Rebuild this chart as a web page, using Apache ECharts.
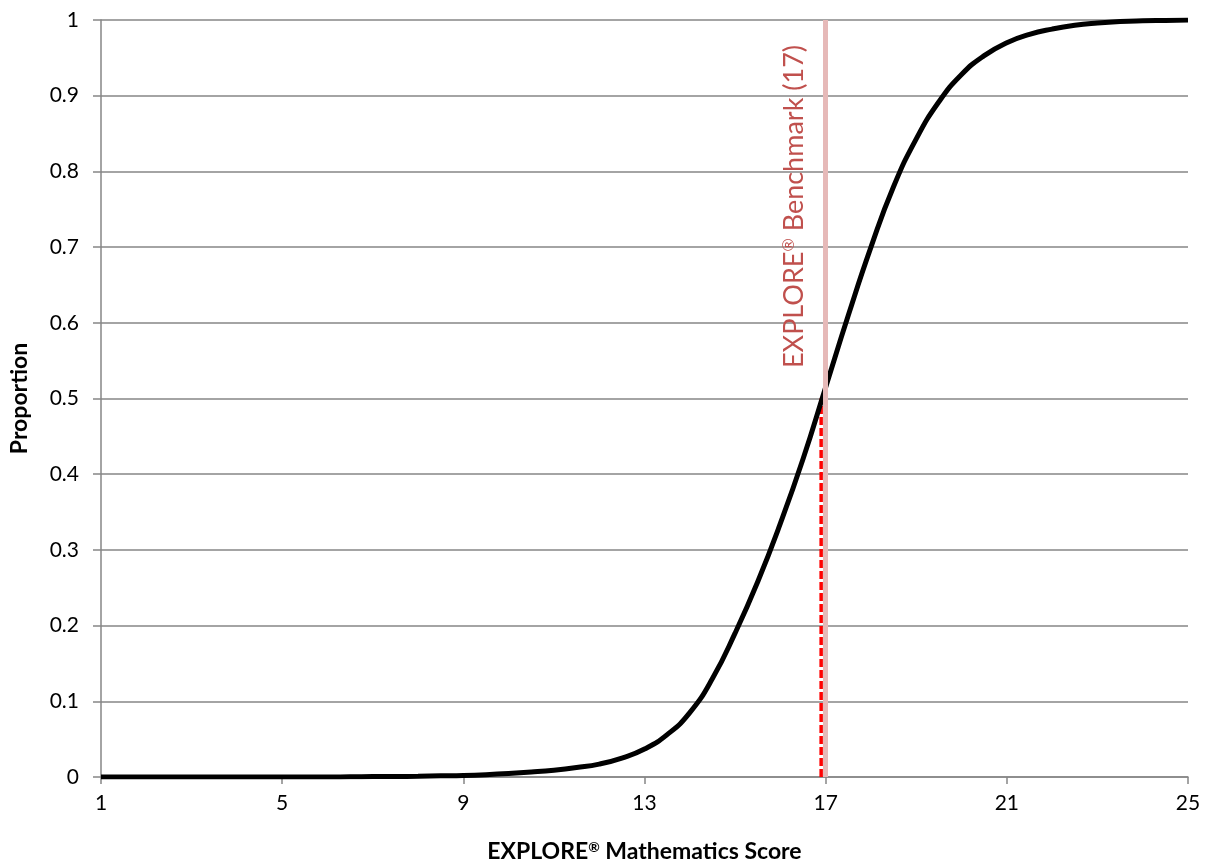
<!DOCTYPE html>
<html>
<head>
<meta charset="utf-8">
<script src="https://cdn.jsdelivr.net/npm/echarts@6/dist/echarts.min.js"></script>
<style>
html,body{margin:0;padding:0;background:#fff;}
#chart{width:1210px;height:865px;}
</style>
</head>
<body>
<div id="chart"></div>
<script>
const scores = [1,1.5,2,2.5,3,3.5,4,4.5,5,5.5,6,6.5,7,7.5,8,8.5,9,9.5,10,10.5,11,11.5,12,12.5,13,13.5,14,14.5,15,15.5,16,16.5,17,17.5,18,18.5,19,19.5,20,20.5,21,21.5,22,22.5,23,23.5,24,24.5,25];
const proportions = [0,0,0,0,0,0,0,0,0,0,0,0.0003,0.0005,0.0007,0.001,0.0015,0.002,0.003,0.0045,0.0065,0.009,0.0125,0.017,0.025,0.037,0.056,0.085,0.13,0.19,0.258,0.335,0.42,0.515,0.61,0.70,0.78,0.843,0.892,0.928,0.953,0.97,0.981,0.988,0.993,0.996,0.998,0.999,0.9995,1.0];
const xTickLabels = [1,5,9,13,17,21,25];
const benchmarkScore = 17;
const benchmarkLabel = 'EXPLORE{sup|®} Benchmark (17)';
const crossingScore = 16.9;
const crossingProportion = 0.5;
const xAxisTitle = 'EXPLORE{sup|®} Mathematics Score';
const yAxisTitle = 'Proportion';

const FONT = 'Lato';
const curveData = scores.map((s, i) => [s, proportions[i]]);
const crossingData = [[crossingScore, 0], [crossingScore, crossingProportion]];

const chart = echarts.init(document.getElementById('chart'), null, {renderer: 'canvas'});
chart.setOption({
  animation: false,
  backgroundColor: '#ffffff',
  grid: {left: 101, right: 22, top: 20, bottom: 88, containLabel: false, outerBoundsMode: 'none'},
  xAxis: {
    type: 'value', min: 1, max: 25,
    name: xAxisTitle, nameLocation: 'middle', nameGap: 63, nameMoveOverlap: false,
    nameTextStyle: {fontFamily: FONT, fontWeight: 'bold', fontSize: 23, color: '#000',
      rich: {sup: {fontFamily: FONT, fontWeight: 'bold', fontSize: 14, verticalAlign: 'top', lineHeight: 23, padding: [0, 0, 9, 0]}}},
    axisLine: {show: true, onZero: false, lineStyle: {color: '#868686', width: 1.5}},
    axisTick: {show: true, length: 7, customValues: xTickLabels, lineStyle: {color: '#868686', width: 1.5}},
    axisLabel: {customValues: xTickLabels, margin: 16, fontFamily: FONT, fontSize: 21, color: '#000'},
    splitLine: {show: false}
  },
  yAxis: {
    type: 'value', min: 0, max: 1, interval: 0.1,
    name: yAxisTitle, nameLocation: 'middle', nameGap: 70, nameMoveOverlap: false,
    nameTextStyle: {fontFamily: FONT, fontWeight: 'bold', fontSize: 23, color: '#000'},
    axisLine: {show: true, lineStyle: {color: '#868686', width: 1.5}},
    axisTick: {show: true, length: 8, lineStyle: {color: '#868686', width: 1.5}},
    axisLabel: {margin: 22, fontFamily: FONT, fontSize: 21, color: '#000',
      formatter: v => String(Math.round(v * 10) / 10)},
    splitLine: {show: true, lineStyle: {color: '#868686', width: 1.5}}
  },
  series: [
    {
      type: 'line', data: [], silent: true,
      markLine: {
        silent: true, symbol: ['none', 'none'],
        lineStyle: {color: '#e6b9b8', width: 5, type: 'solid'},
        label: {show: true, position: 'insideEndTop', formatter: benchmarkLabel,
          color: '#c0504d', fontFamily: FONT, fontSize: 27, distance: [25, 18],
          rich: {sup: {color: '#c0504d', fontFamily: FONT, fontSize: 16, verticalAlign: 'top', padding: [0, 0, 10, 0]}}},
        data: [{xAxis: benchmarkScore}]
      }
    },
    {
      type: 'line', data: crossingData, symbol: 'none', silent: true,
      lineStyle: {color: '#ff0000', width: 3.5, type: [8, 3]}
    },
    {
      type: 'line', data: curveData, smooth: 0.5, symbol: 'none', silent: true,
      lineStyle: {color: '#000000', width: 5}
    }
  ]
});
</script>
</body>
</html>
